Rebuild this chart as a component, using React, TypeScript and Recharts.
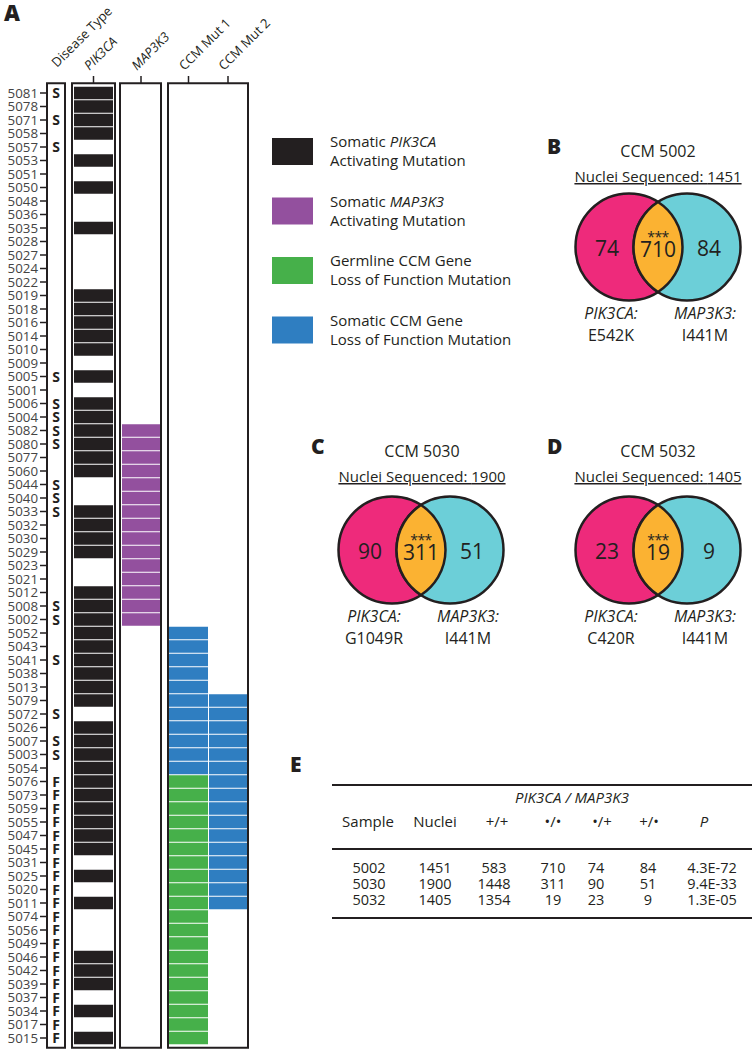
import React from "react";
import { ScatterChart, Scatter, XAxis, YAxis, ReferenceArea } from "recharts";

const FONT = "'Open Sans', 'Noto Sans', sans-serif";
const INK = "#231f20";
const PURPLE = "#93509e";
const GREEN = "#46b04a";
const BLUE = "#2f7ec1";
const PINK = "#ee2a7b";
const CYAN = "#6ccfd8";
const ORANGE = "#fbb232";

// ---------- panel A ----------
const SAMPLES = [
  "5081", "5078", "5071", "5058", "5057", "5053", "5051", "5050", "5048", "5036",
  "5035", "5028", "5027", "5024", "5022", "5019", "5018", "5016", "5014", "5010",
  "5009", "5005", "5001", "5006", "5004", "5082", "5080", "5077", "5060", "5044",
  "5040", "5033", "5032", "5030", "5029", "5023", "5021", "5012", "5008", "5002",
  "5052", "5043", "5041", "5038", "5013", "5079", "5072", "5026", "5007", "5003",
  "5054", "5076", "5073", "5059", "5055", "5047", "5045", "5031", "5025", "5020",
  "5011", "5074", "5056", "5049", "5046", "5042", "5039", "5037", "5034", "5017",
  "5015",
];
// S = sporadic, F = familial
const DISEASE = [
  "S", "", "S", "", "S", "", "", "", "", "",
  "", "", "", "", "", "", "", "", "", "",
  "", "S", "", "S", "S", "S", "S", "", "", "S",
  "S", "S", "", "", "", "", "", "", "S", "S",
  "", "", "S", "", "", "", "S", "", "S", "S",
  "", "F", "F", "F", "F", "F", "F", "F", "F", "F",
  "F", "F", "F", "F", "F", "F", "F", "F", "F", "F",
  "F",
];
const PIK3CA = [
  1, 1, 1, 1, 0, 1, 0, 1, 0, 0,
  1, 0, 0, 0, 0, 1, 1, 1, 1, 1,
  0, 1, 0, 1, 1, 1, 1, 1, 1, 0,
  0, 1, 1, 1, 1, 0, 0, 1, 1, 1,
  1, 1, 1, 1, 1, 1, 0, 1, 1, 1,
  1, 1, 1, 1, 1, 1, 1, 0, 1, 0,
  1, 0, 0, 0, 1, 1, 1, 0, 1, 0,
  1,
];
const MAP3K3 = [
  0, 0, 0, 0, 0, 0, 0, 0, 0, 0,
  0, 0, 0, 0, 0, 0, 0, 0, 0, 0,
  0, 0, 0, 0, 0, 1, 1, 1, 1, 1,
  1, 1, 1, 1, 1, 1, 1, 1, 1, 1,
  0, 0, 0, 0, 0, 0, 0, 0, 0, 0,
  0, 0, 0, 0, 0, 0, 0, 0, 0, 0,
  0, 0, 0, 0, 0, 0, 0, 0, 0, 0,
  0,
];
// G = germline loss of function, S = somatic loss of function
const CCM_MUT1 = [
  "", "", "", "", "", "", "", "", "", "",
  "", "", "", "", "", "", "", "", "", "",
  "", "", "", "", "", "", "", "", "", "",
  "", "", "", "", "", "", "", "", "", "",
  "S", "S", "S", "S", "S", "S", "S", "S", "S", "S",
  "S", "G", "G", "G", "G", "G", "G", "G", "G", "G",
  "G", "G", "G", "G", "G", "G", "G", "G", "G", "G",
  "G",
];
const CCM_MUT2 = [
  0, 0, 0, 0, 0, 0, 0, 0, 0, 0,
  0, 0, 0, 0, 0, 0, 0, 0, 0, 0,
  0, 0, 0, 0, 0, 0, 0, 0, 0, 0,
  0, 0, 0, 0, 0, 0, 0, 0, 0, 0,
  0, 0, 0, 0, 0, 1, 1, 1, 1, 1,
  1, 1, 1, 1, 1, 1, 1, 1, 1, 1,
  1, 0, 0, 0, 0, 0, 0, 0, 0, 0,
  0,
];
const COLUMN_LABELS = ["Disease Type", "PIK3CA", "MAP3K3", "CCM Mut 1", "CCM Mut 2"];
const ITALIC_COLS = [false, true, true, false, false];

// layout of panel A (x axis units = px from plot left)
const COL_X = [10, 47.5, 95, 142.5, 182];
const COL_W = [0, 39, 38, 39, 38];
const BOXES = [[1, 19], [26, 69], [74, 115], [122, 202]];
const CH_TOP = 86.25;
const CH_BOTTOM = 5.25;
const CH_H = 1050;
const ROW_H = (CH_H - CH_TOP - CH_BOTTOM) / SAMPLES.length;
const ROW_TICKS = SAMPLES.map((_, i) => i);

// ---------- panels B-E ----------
const VENN_SAMPLES = ["5002", "5030", "5032"];
const NUCLEI = [1451, 1900, 1405];
const BOTH_WT = [583, 1448, 1354];
const BOTH_MUT = [710, 311, 19];
const PIK_ONLY = [74, 90, 23];
const MAP_ONLY = [84, 51, 9];
const PIK_VARIANT = ["E542K", "G1049R", "C420R"];
const MAP_VARIANT = ["I441M", "I441M", "I441M"];
const P_VALUES = ["4.3E-72", "9.4E-33", "1.3E-05"];

const LEGEND = [
  { color: INK, pre: "Somatic ", gene: "PIK3CA", line2: "Activating Mutation" },
  { color: PURPLE, pre: "Somatic ", gene: "MAP3K3", line2: "Activating Mutation" },
  { color: GREEN, pre: "Germline CCM Gene", gene: "", line2: "Loss of Function Mutation" },
  { color: BLUE, pre: "Somatic CCM Gene", gene: "", line2: "Loss of Function Mutation" },
];

function cellShape(col: number, fill: string) {
  return (p: any) => (
    <rect
      x={p.cx - COL_W[col] / 2}
      y={p.cy - ROW_H / 2 + 0.5}
      width={COL_W[col]}
      height={ROW_H - 1}
      fill={fill}
    />
  );
}

function DiseaseShape(p: any) {
  return (
    <text
      x={p.cx}
      y={p.cy}
      dy="0.36em"
      textAnchor="middle"
      fontSize={14}
      fontWeight={700}
      fontFamily={FONT}
      fill={INK}
    >
      {p.payload.label}
    </text>
  );
}

function HeaderTick(p: any) {
  const idx = COL_X.indexOf(p.payload.value);
  if (idx < 0) return null;
  const x = p.x;
  const ax = idx === 0 ? x + 1 : x - 4;
  const ay = idx === 0 ? 68 : 71;
  return (
    <g>
      {idx > 0 && <line x1={x} x2={x} y1={76} y2={83} stroke={INK} strokeWidth={1.5} />}
      <text
        x={ax}
        y={ay}
        transform={`rotate(-45 ${ax} ${ay})`}
        fontSize={13}
        fontFamily={FONT}
        fontStyle={ITALIC_COLS[idx] ? "italic" : "normal"}
        fill={INK}
      >
        {COLUMN_LABELS[idx]}
      </text>
    </g>
  );
}

function Heatmap() {
  const pts = (pred: (i: number) => boolean, col: number) =>
    SAMPLES.map((id, i) => ({ id, row: i, x: COL_X[col], label: DISEASE[i] })).filter((d) => pred(d.row));
  return (
    <ScatterChart width={300} height={CH_H} margin={{ top: 0, right: 52, bottom: CH_BOTTOM, left: 0 }}>
      <XAxis
        type="number"
        dataKey="x"
        domain={[0, 202]}
        orientation="top"
        height={CH_TOP}
        ticks={COL_X}
        interval={0}
        axisLine={false}
        tickLine={false}
        tick={<HeaderTick />}
      />
      <YAxis
        type="number"
        dataKey="row"
        domain={[-0.5, SAMPLES.length - 0.5]}
        reversed
        ticks={ROW_TICKS}
        interval={0}
        width={46}
        tickSize={6}
        tickMargin={2}
        axisLine={false}
        tickLine={{ stroke: INK, strokeWidth: 1.5 }}
        tick={{ fontSize: 13.3, fill: "#444", fontFamily: FONT }}
        tickFormatter={(v: number) => SAMPLES[v] ?? ""}
      />
      {BOXES.map(([a, b], i) => (
        <ReferenceArea
          key={i}
          x1={a}
          x2={b}
          y1={-0.72}
          y2={SAMPLES.length - 0.28}
          fill="none"
          fillOpacity={0}
          stroke={INK}
          strokeWidth={2}
          ifOverflow="visible"
        />
      ))}
      <Scatter data={pts((i) => DISEASE[i] !== "", 0)} shape={DiseaseShape} isAnimationActive={false} />
      <Scatter data={pts((i) => PIK3CA[i] === 1, 1)} shape={cellShape(1, INK)} isAnimationActive={false} />
      <Scatter data={pts((i) => MAP3K3[i] === 1, 2)} shape={cellShape(2, PURPLE)} isAnimationActive={false} />
      <Scatter data={pts((i) => CCM_MUT1[i] === "G", 3)} shape={cellShape(3, GREEN)} isAnimationActive={false} />
      <Scatter data={pts((i) => CCM_MUT1[i] === "S", 3)} shape={cellShape(3, BLUE)} isAnimationActive={false} />
      <Scatter data={pts((i) => CCM_MUT2[i] === 1, 4)} shape={cellShape(4, BLUE)} isAnimationActive={false} />
    </ScatterChart>
  );
}

// ---------- Venn ----------
const R = 53.5;
const HALF_D = 29;

function CircleShape(p: any) {
  const { cx, cy, payload } = p;
  const s = payload.side;
  return (
    <g fontFamily={FONT} fill={INK}>
      <circle cx={cx} cy={cy} r={R} fill={payload.fill} stroke={INK} strokeWidth={2.5} />
      <text x={cx + s * 22} y={cy + 9} textAnchor="middle" fontSize={21} fill={INK}>
        {payload.n}
      </text>
      <text x={cx + s * 18} y={cy + 72} textAnchor="middle" fontSize={16} fontStyle="italic" fill={INK}>
        {payload.gene}
      </text>
      <text x={cx + s * 18} y={cy + 94} textAnchor="middle" fontSize={16} fill={INK}>
        {payload.variant}
      </text>
    </g>
  );
}

function LensShape(p: any) {
  const { cx, cy, payload } = p;
  const h = Math.sqrt(R * R - HALF_D * HALF_D);
  const d = `M ${cx} ${cy - h} A ${R} ${R} 0 0 1 ${cx} ${cy + h} A ${R} ${R} 0 0 1 ${cx} ${cy - h} Z`;
  return (
    <g fontFamily={FONT}>
      <path d={d} fill={ORANGE} stroke={INK} strokeWidth={2.5} />
      <text x={cx} y={cy - 5} textAnchor="middle" fontSize={14} fill={INK} letterSpacing={-0.5}>
        ***
      </text>
      <text x={cx} y={cy + 10} textAnchor="middle" fontSize={21} fill={INK}>
        {payload.n}
      </text>
    </g>
  );
}

function Venn({ i, left, top }: { i: number; left: number; top: number }) {
  const sets = [
    { x: -0.5, y: 0, side: -1, n: PIK_ONLY[i], gene: "PIK3CA:", variant: PIK_VARIANT[i], fill: PINK },
    { x: 0.5, y: 0, side: 1, n: MAP_ONLY[i], gene: "MAP3K3:", variant: MAP_VARIANT[i], fill: CYAN },
  ];
  const overlap = [{ x: 0, y: 0, n: BOTH_MUT[i] }];
  return (
    <div style={{ position: "absolute", left, top }}>
      <ScatterChart width={232} height={180} margin={{ top: 0, right: 0, bottom: 50, left: 0 }}>
        <XAxis type="number" dataKey="x" domain={[-2, 2]} hide />
        <YAxis type="number" dataKey="y" domain={[-1, 1]} hide />
        <Scatter data={sets} shape={CircleShape} isAnimationActive={false} />
        <Scatter data={overlap} shape={LensShape} isAnimationActive={false} />
      </ScatterChart>
    </div>
  );
}

const VENN_POS = [
  { left: 542, top: 182, letter: "B", lx: 547, ly: 154, tx: 658, ty: 157 },
  { left: 305, top: 485, letter: "C", lx: 311, ly: 454, tx: 422, ty: 457 },
  { left: 542, top: 485, letter: "D", lx: 547, ly: 454, tx: 658, ty: 457 },
];

// table E layout
const HEAD_X = [368, 435, 497, 553, 602, 649, 704];
const VAL_X = [369, 435, 494, 553, 596, 648, 712];
const ROW_Y = [873, 889, 905];

function Overlay() {
  return (
    <svg width={754} height={1050} style={{ position: "absolute", left: 0, top: 0 }} fontFamily={FONT} fill={INK}>
      <text x={4} y={21} fontSize={22} fontWeight={800}>A</text>

      {LEGEND.map((l, i) => {
        const top = 138 + i * 59.5;
        return (
          <g key={i}>
            <rect x={272} y={top} width={41} height={27} fill={l.color} />
            <text x={330} y={top + 9} fontSize={15}>
              {l.pre}
              {l.gene && <tspan fontStyle="italic">{l.gene}</tspan>}
            </text>
            <text x={330} y={top + 28} fontSize={15}>{l.line2}</text>
          </g>
        );
      })}

      {VENN_POS.map((v, i) => (
        <g key={i}>
          <text x={v.lx} y={v.ly} fontSize={21} fontWeight={800}>{v.letter}</text>
          <text x={v.tx} y={v.ty} fontSize={16} textAnchor="middle">CCM {VENN_SAMPLES[i]}</text>
          <text x={v.tx} y={v.ty + 25} fontSize={15} textAnchor="middle" style={{ textDecoration: "underline" }}>
            Nuclei Sequenced: {NUCLEI[i]}
          </text>
        </g>
      ))}

      <text x={290} y={772} fontSize={21} fontWeight={800}>E</text>
      <line x1={332} x2={752} y1={785} y2={785} stroke={INK} strokeWidth={2} />
      <text x={572} y={803} fontSize={15} fontStyle="italic" textAnchor="middle">PIK3CA / MAP3K3</text>
      {["Sample", "Nuclei", "+/+", "•/•", "•/+", "+/•", "P"].map((h, j) => (
        <text key={h} x={HEAD_X[j]} y={827} fontSize={15} textAnchor="middle" fontStyle={j === 6 ? "italic" : "normal"}>
          {h}
        </text>
      ))}
      <line x1={332} x2={752} y1={849} y2={849} stroke={INK} strokeWidth={2} />
      {VENN_SAMPLES.map((s, r) => {
        const vals = [s, NUCLEI[r], BOTH_WT[r], BOTH_MUT[r], PIK_ONLY[r], MAP_ONLY[r], P_VALUES[r]];
        return vals.map((v, j) => (
          <text key={`${r}-${j}`} x={VAL_X[j]} y={ROW_Y[r]} fontSize={14.5} textAnchor="middle">
            {v}
          </text>
        ));
      })}
      <line x1={332} x2={752} y1={918} y2={918} stroke={INK} strokeWidth={2} />
    </svg>
  );
}

export default function App() {
  return (
    <div
      style={{
        position: "absolute",
        left: 0,
        top: 0,
        width: 754,
        height: 1050,
        background: "#fff",
        overflow: "hidden",
        fontFamily: FONT,
      }}
    >
      <Overlay />
      <div style={{ position: "absolute", left: 0, top: 0 }}>
        <Heatmap />
      </div>
      {VENN_POS.map((v, i) => (
        <Venn key={i} i={i} left={v.left} top={v.top} />
      ))}
    </div>
  );
}
